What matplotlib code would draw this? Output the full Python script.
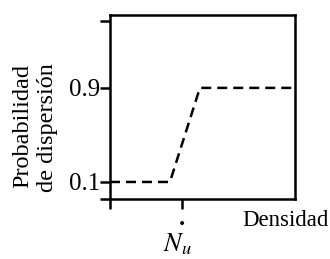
import matplotlib
matplotlib.use('Agg')
from matplotlib import pyplot as plt

# Dispersion probability vs density (step-like response)
density = [0.0, 0.324, 0.486, 1.0]
prob = [0.1, 0.1, 0.9, 0.9]

ytick_vals = [-0.045, 0.1, 0.9, 1.47]
ytick_labels = ['', '0.1', '0.9', '']
xtick_vals = [0.0, 0.39]

plt.rcParams['font.family'] = ['Liberation Serif', 'DejaVu Serif']
plt.rcParams['mathtext.fontset'] = 'stix'

fig = plt.figure(figsize=(3.3, 2.59), dpi=100)
ax = fig.add_axes([110 / 330, 1 - 199 / 259, 185 / 330, 184 / 259])

ax.plot(density, prob, color='black', lw=1.8, linestyle=(0, (4, 2.4)))

ax.set_xlim(0, 1)
ax.set_ylim(-0.045, 1.52)
ax.set_yticks(ytick_vals)
ax.set_yticklabels(ytick_labels, fontsize=18)
ax.set_xticks(xtick_vals)
ax.set_xticklabels(['', ''])
ax.tick_params(direction='out', length=7, width=1.8, pad=0, color='black')

for s in ax.spines.values():
    s.set_linewidth(1.8)

fig.text(35 / 330, 1 - 128 / 259, 'Probabilidad\nde dispersión', rotation=90,
         ha='center', va='center', multialignment='right', fontsize=17.5,
         linespacing=1.2)
fig.text(0.997, 1 - 220 / 259, 'Densidad', ha='right', va='center', fontsize=16.5)
fig.text(177 / 330, 1 - 244 / 259, r'$N_{u}$',
         ha='center', va='center', fontsize=19)
fig.text(182 / 330, 1 - 224 / 259, '\u2022', ha='center', va='center',
         fontsize=10, family='DejaVu Sans')

fig.savefig('out.png', dpi=100)
